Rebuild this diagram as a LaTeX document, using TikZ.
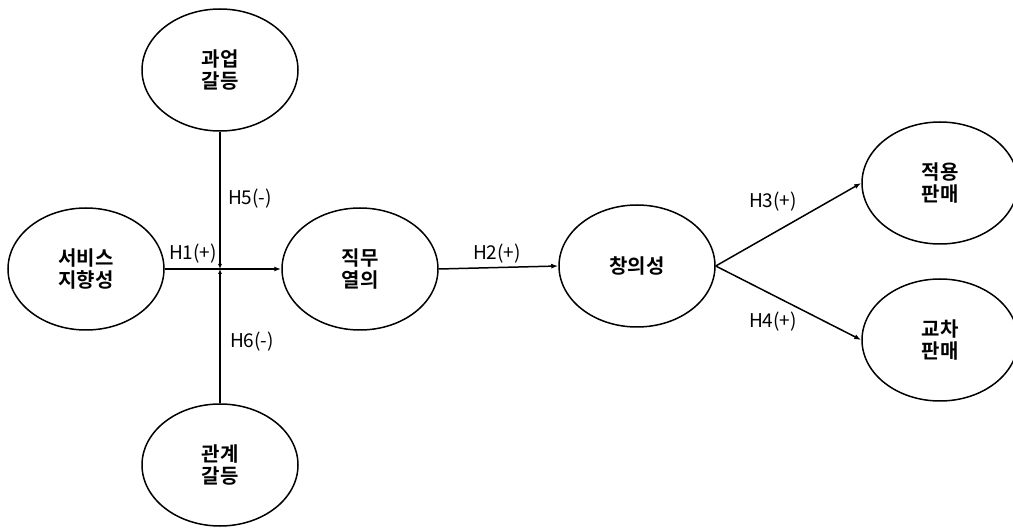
\documentclass[tikz,border=0pt]{standalone}
\usepackage{fontspec}
\setmainfont{Noto Sans CJK KR}[BoldFont={Noto Sans CJK KR Bold}]
\usetikzlibrary{shapes.geometric,arrows.meta}

\begin{document}
\begin{tikzpicture}[x=1pt,y=-1pt,
  var/.style={ellipse,draw,line width=1.5pt,minimum width=156pt,minimum height=122pt,inner sep=0pt,align=center,font=\fontsize{20}{22}\selectfont\bfseries},
  path/.style={line width=1.5pt,-{Latex[length=7pt,width=5pt]}},
  meetpath/.style={line width=1.5pt,-{Latex[length=5pt,width=4pt]}},
  hyp/.style={inner sep=1pt,font=\fontsize{19}{21}\selectfont}]
\useasboundingbox (0,0) rectangle (1013,529);
\node[var] (task) at (220,70) {과업\\갈등};
\node[var] (rel) at (220,465) {관계\\갈등};
\node[var] (serv) at (86,269) {서비스\\지향성};
\node[var] (job) at (360,269) {직무\\열의};
\node[var] (crea) at (637,266) {창의성};
\node[var] (adapt) at (940,183) {적용\\판매};
\node[var] (cross) at (940,340) {교차\\판매};

\coordinate (meet) at (task.south |- serv.east);

\draw[path] (serv.east) -- (job.west);
\draw[meetpath] (task.south) -- (meet);
\draw[meetpath] (rel.north) -- (meet);
\draw[path] (job.east) -- (crea.west);
\draw[path] (crea.east) -- (adapt.west);
\draw[path] (crea.east) -- (cross.west);

\node[hyp] (h1) at (193,254) {H1(+)};
\node[hyp] (h2) at (497,254) {H2(+)};
\node[hyp] (h3) at (773,202) {H3(+)};
\node[hyp] (h4) at (773,322) {H4(+)};
\node[hyp] (h5) at (250,199) {H5(-)};
\node[hyp] (h6) at (252,342) {H6(-)};
\end{tikzpicture}
\end{document}
